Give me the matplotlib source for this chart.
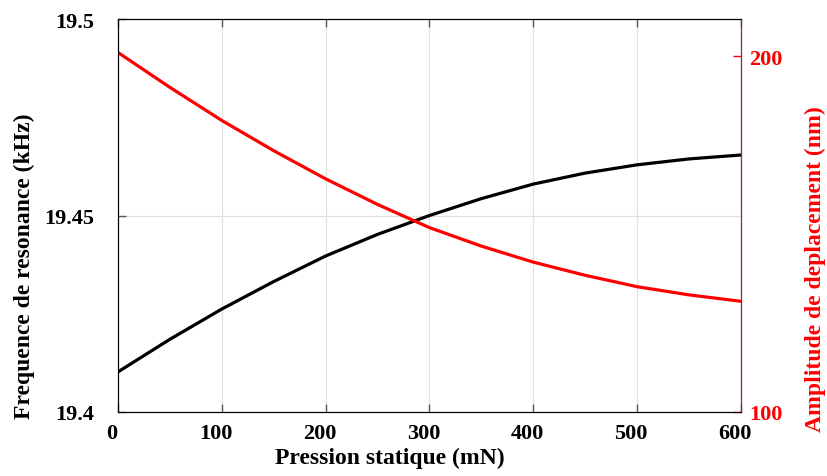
import matplotlib.pyplot as plt
from matplotlib.transforms import ScaledTranslation

# pression statique (mN)
pression = [0, 50, 100, 150, 200, 250, 300, 350, 400, 450, 500, 550, 600]
# frequence de resonance (kHz)
frequence = [19.4102, 19.4185, 19.4262, 19.4332, 19.4397, 19.4452, 19.4500,
             19.4543, 19.4580, 19.4608, 19.4629, 19.4644, 19.4654]
# amplitude de deplacement (nm)
amplitude = [201.0, 191.2, 181.9, 173.4, 165.5, 158.3, 151.8,
             146.6, 142.1, 138.4, 135.2, 132.9, 131.1]

plt.rcParams['font.family'] = ['Liberation Serif', 'DejaVu Serif']
plt.rcParams['font.weight'] = 'bold'

fig = plt.figure(figsize=(8.28, 4.77), dpi=100)
ax = fig.add_axes([0.1425, 0.1342, 0.7524, 0.8238])

ax.plot(pression, frequence, color='black', lw=2.3)
ax.set_xlim(0, 600)
ax.set_ylim(19.4, 19.5)
ax.set_xticks([0, 100, 200, 300, 400, 500, 600])
ax.set_yticks([19.4, 19.45, 19.5])
ax.set_yticklabels(['19.4', '19.45', '19.5'])
ax.grid(True, color='#e0e0e0', lw=0.9)
ax.tick_params(direction='in', length=6, width=1, colors='#555555',
               labelcolor='black', labelsize=16, top=True, right=True)
ax.tick_params(axis='x', pad=8)
ax.tick_params(axis='y', pad=17)
for lab in ax.get_xticklabels():
    lab.set_transform(lab.get_transform() + ScaledTranslation(-0.06, 0, fig.dpi_scale_trans))
ax.set_xlabel('Pression statique (mN)', fontsize=17, fontweight='bold', labelpad=3)
ax.xaxis.label.set_x(0.437)
ax.set_ylabel('Frequence de resonance (kHz)', fontsize=17, fontweight='bold', labelpad=7)
ax.yaxis.label.set_y(0.374)
for s in ['left', 'bottom']:
    ax.spines[s].set_color('#444444')

ax2 = ax.twinx()
ax2.plot(pression, amplitude, color='red', lw=2.3)
ax2.set_ylim(100, 210.4)
ax2.set_yticks([100, 200])
ax2.tick_params(direction='in', length=6, width=1, colors='red', labelsize=16, pad=6)
ax2.set_ylabel('Amplitude de deplacement (nm)', fontsize=17, fontweight='bold',
               color='red', labelpad=16)
ax2.yaxis.label.set_y(0.366)
ax2.spines['right'].set_color('red')

fig.savefig('out.png', dpi=100)
